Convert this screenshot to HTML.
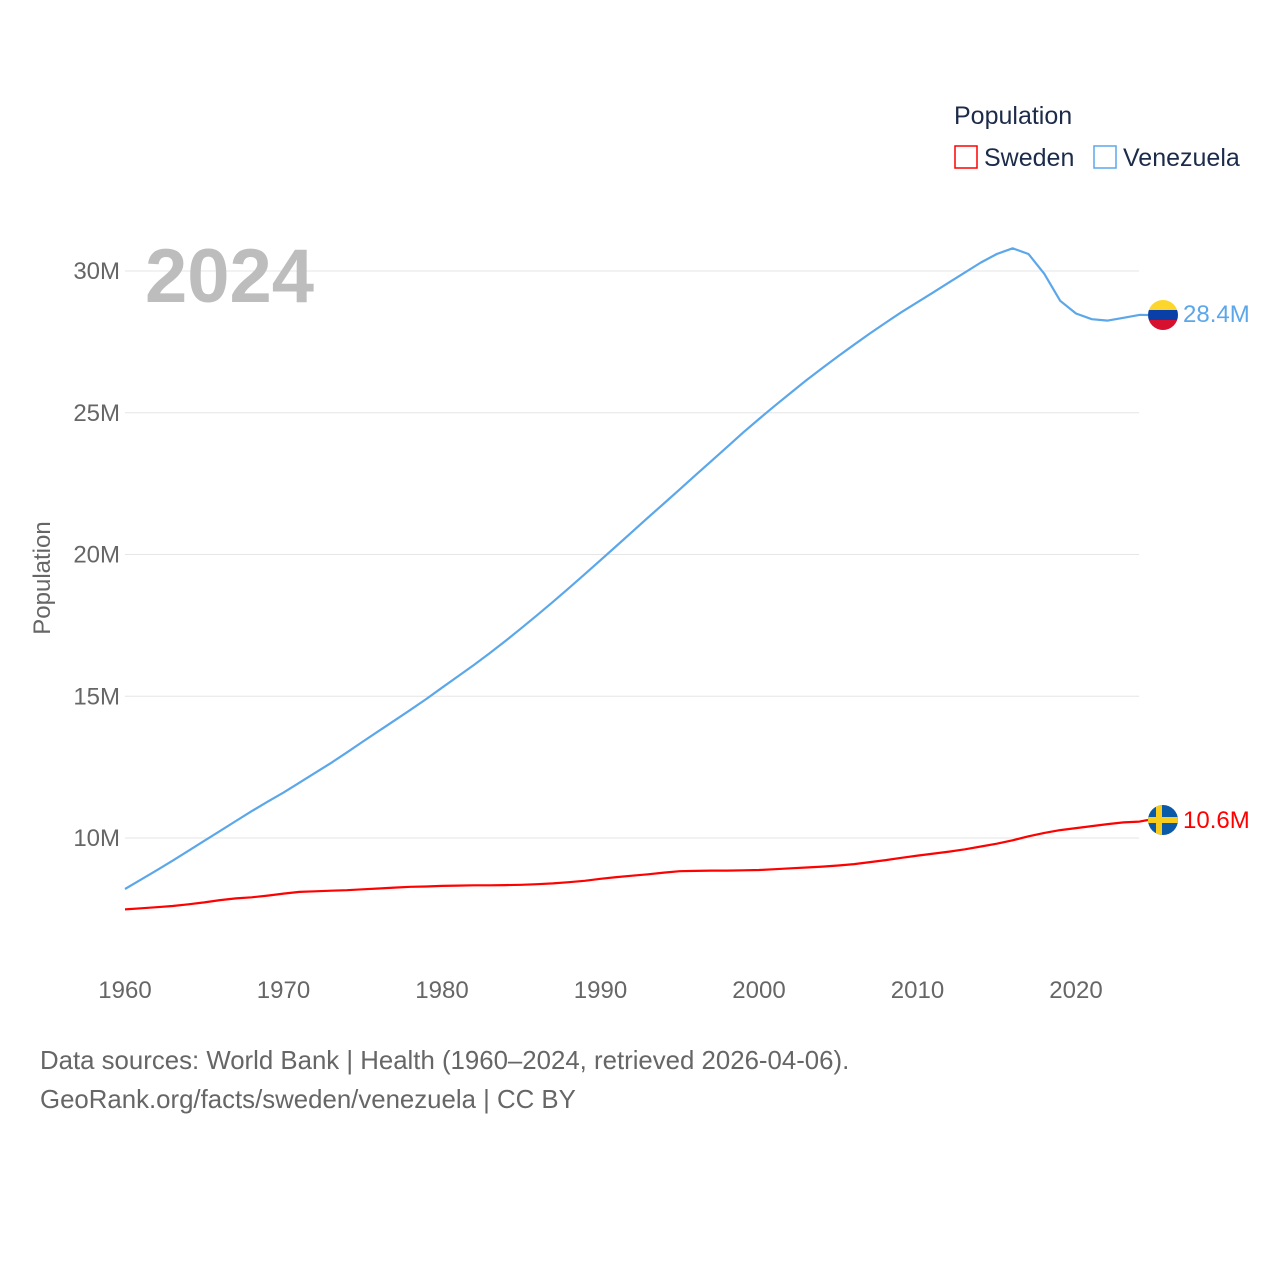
<!DOCTYPE html>
<html><head><meta charset="utf-8"><style>
body{margin:0;background:#fff;font-family:"Liberation Sans",sans-serif}
svg text{font-family:"Liberation Sans",sans-serif}
</style></head><body>
<svg id="chart" width="1280" height="1280" viewBox="0 0 1280 1280">
<g id="grid"></g>
<g id="yticks"></g>
<g id="xticks"></g>
<text x="145" y="302" font-size="76" font-weight="bold" fill="#bdbdbd">2024</text>
<text transform="translate(50,578) rotate(-90)" text-anchor="middle" font-size="24" fill="#666">Population</text>
<g>
<text x="954" y="124" font-size="25" fill="#1c2b4a">Population</text>
<g><rect x="955" y="146" width="22" height="22" fill="none" stroke="#ff0000" stroke-width="1.5"/><text x="984" y="166" font-size="25" fill="#1c2b4a">Sweden</text></g>
<g><rect x="1094" y="146" width="22" height="22" fill="none" stroke="#5ba7ea" stroke-width="1.5"/><text x="1123" y="166" font-size="25" fill="#1c2b4a">Venezuela</text></g>
</g>
<g id="series"></g>
<defs>
<clipPath id="cv"><circle cx="1163" cy="315" r="15"/></clipPath>
<clipPath id="cs"><circle cx="1163" cy="820" r="15"/></clipPath>
</defs>
<g clip-path="url(#cv)">
<rect x="1148" y="300" width="30" height="10" fill="#fcd62d"/><rect x="1148" y="310" width="30" height="10" fill="#0b3fa8"/><rect x="1148" y="320" width="30" height="10" fill="#d8102f"/>
</g>
<g clip-path="url(#cs)">
<rect x="1148" y="805" width="30" height="30" fill="#0a5aa8"/><rect x="1148" y="817" width="30" height="6" fill="#f7cc1c"/><rect x="1156" y="805" width="6" height="30" fill="#f7cc1c"/>
</g>
<text x="1183" y="322" font-size="24" fill="#5ba7ea">28.4M</text>
<text x="1183" y="828" font-size="24" fill="#ff0000">10.6M</text>
<text x="40" y="1069" font-size="25.8" fill="#666">Data sources: World Bank | Health (1960–2024, retrieved 2026-04-06).</text>
<text x="40" y="1108" font-size="25.8" fill="#666">GeoRank.org/facts/sweden/venezuela | CC BY</text>
</svg>
<script>
const years=[];for(let y=1960;y<=2024;y++)years.push(y);
const venezuela=[8.2,8.53,8.86,9.2,9.55,9.9,10.25,10.6,10.95,11.28,11.6,11.95,12.3,12.65,13.02,13.4,13.77,14.14,14.52,14.9,15.3,15.7,16.1,16.52,16.95,17.4,17.86,18.33,18.81,19.3,19.8,20.3,20.8,21.3,21.8,22.3,22.8,23.3,23.8,24.3,24.78,25.25,25.7,26.15,26.58,27.0,27.4,27.8,28.18,28.55,28.9,29.25,29.6,29.95,30.3,30.6,30.8,30.6,29.9,28.95,28.5,28.3,28.25,28.35,28.45];
const sweden=[7.48,7.52,7.56,7.6,7.66,7.73,7.81,7.87,7.91,7.97,8.04,8.1,8.12,8.14,8.16,8.19,8.22,8.25,8.28,8.29,8.31,8.32,8.33,8.33,8.34,8.35,8.37,8.4,8.44,8.49,8.56,8.62,8.67,8.72,8.78,8.83,8.84,8.85,8.85,8.86,8.87,8.9,8.93,8.96,8.99,9.03,9.08,9.15,9.22,9.3,9.38,9.45,9.52,9.6,9.7,9.8,9.92,10.06,10.18,10.28,10.35,10.42,10.49,10.55,10.58];
const yTicks=[10,15,20,25,30];
const yTickLabels=["10M","15M","20M","25M","30M"];
const xTicks=[1960,1970,1980,1990,2000,2010,2020];
const NS="http://www.w3.org/2000/svg";
const X=y=>125+(y-1960)*(1076-125)/60;
const Y=v=>838-(v-10)*(838-271)/20;
function mk(t,a,p){const e=document.createElementNS(NS,t);for(const k in a)e.setAttribute(k,a[k]);p.appendChild(e);return e;}
const grid=document.getElementById('grid'),yt=document.getElementById('yticks'),xt=document.getElementById('xticks'),ser=document.getElementById('series');
yTicks.forEach((v,i)=>{
const l=mk('line',{x1:125,x2:1139,y1:Y(v),y2:Y(v),stroke:'#e6e6e6','stroke-width':1},grid);


const t=mk('text',{x:120,y:Y(v)+8,'text-anchor':'end','font-size':24,fill:'#666'},yt);
t.textContent=yTickLabels[i];


});
xTicks.forEach(v=>{
const t=mk('text',{x:X(v),y:998,'text-anchor':'middle','font-size':24,fill:'#666'},xt);
t.textContent=v;


});
function line(data,color,name,ey){
let d=data.map((v,i)=>(i?'L':'M')+X(years[i]).toFixed(1)+','+Y(v).toFixed(1)).join('');
d+='L1148,'+ey;
const p=mk('path',{d:d,fill:'none',stroke:color,'stroke-width':2.2,'stroke-linejoin':'round'},ser);


}
line(venezuela,'#5ba7ea','venezuela-line',315);
line(sweden,'#ff0000','sweden-line',820);
</script>
</body></html>
